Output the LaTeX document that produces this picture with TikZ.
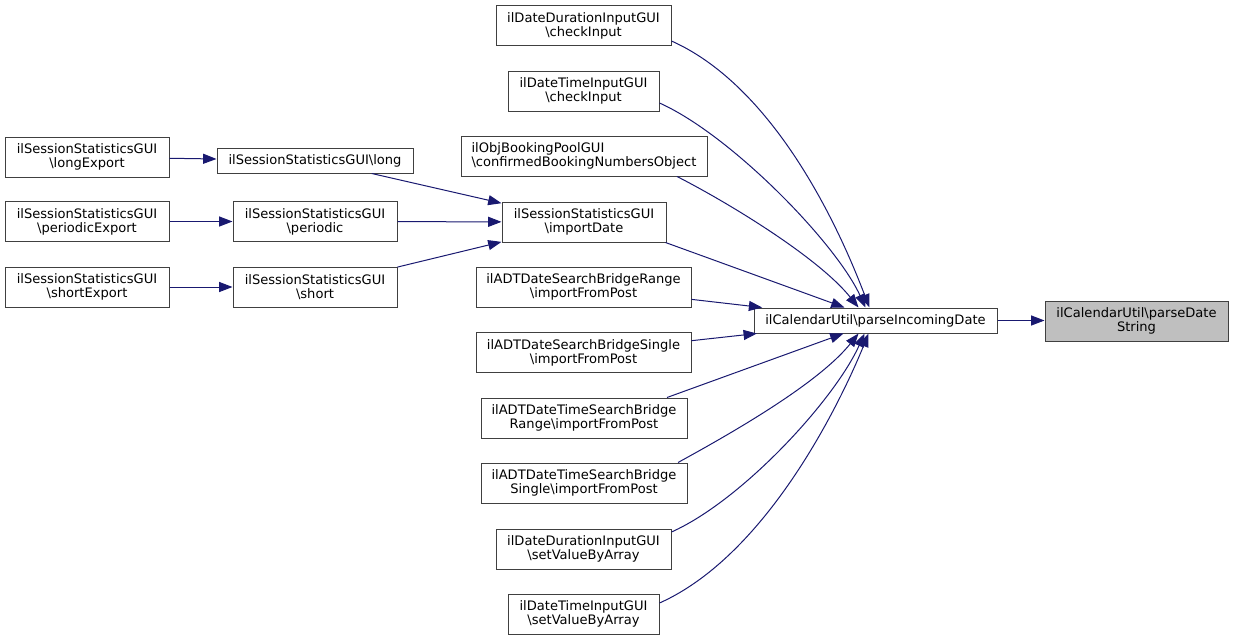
\documentclass[tikz,border=0pt]{standalone}
\usepackage{fontspec}
\setmainfont{DejaVu Sans}
\usetikzlibrary{arrows.meta,calc}
\definecolor{edgeblue}{HTML}{191970}
\definecolor{nodeborder}{HTML}{404040}
\definecolor{hlfill}{HTML}{BFBFBF}
\tikzset{
  fn/.style={draw=nodeborder, line width=0.75pt, fill=white, rectangle, inner sep=0pt,
    align=center, font=\fontsize{9.8}{10.5}\selectfont, minimum height=30pt},
  hl/.style={fn, fill=hlfill},
  edge/.style={draw=edgeblue, line width=0.75pt, -{Triangle[length=10pt,width=7.5pt]}},
}
\begin{document}
\begin{tikzpicture}[x=0.75pt,y=-0.75pt]
\useasboundingbox (0,0) rectangle (1233,640);
% nodes
\node[hl, minimum width=137.25pt] (pds) at (1136.5,321) {ilCalendarUtil\textbackslash parseDate\\String};
\node[fn, minimum width=182.25pt, minimum height=18.75pt] (pid) at (875.5,320.5) {ilCalendarUtil\textbackslash parseIncomingDate};
\node[fn, minimum width=131.25pt] (ddc) at (583.5,25.5) {ilDateDurationInputGUI\\\textbackslash checkInput};
\node[fn, minimum width=113.25pt] (dtc) at (583.5,91) {ilDateTimeInputGUI\\\textbackslash checkInput};
\node[fn, minimum width=184.5pt, align=left] (obj) at (584,156) {ilObjBookingPoolGUI\\\textbackslash confirmedBookingNumbersObject};
\node[fn, minimum width=123pt] (imp) at (584,222) {ilSessionStatisticsGUI\\\textbackslash importDate};
\node[fn, minimum width=161.25pt] (adr) at (583.5,287) {ilADTDateSearchBridgeRange\\\textbackslash importFromPost};
\node[fn, minimum width=161.25pt] (ads) at (583.5,352.5) {ilADTDateSearchBridgeSingle\\\textbackslash importFromPost};
\node[fn, minimum width=154.5pt] (atr) at (584,418) {ilADTDateTimeSearchBridge\\Range\textbackslash importFromPost};
\node[fn, minimum width=154.5pt] (ats) at (584,483) {ilADTDateTimeSearchBridge\\Single\textbackslash importFromPost};
\node[fn, minimum width=131.25pt] (dds) at (583.5,549) {ilDateDurationInputGUI\\\textbackslash setValueByArray};
\node[fn, minimum width=113.25pt] (dts) at (583.5,614) {ilDateTimeInputGUI\\\textbackslash setValueByArray};
\node[fn, minimum width=147pt, minimum height=18.75pt] (long) at (315,160.5) {ilSessionStatisticsGUI\textbackslash long};
\node[fn, minimum width=123pt] (per) at (315,221.5) {ilSessionStatisticsGUI\\\textbackslash periodic};
\node[fn, minimum width=123pt] (sho) at (315,287) {ilSessionStatisticsGUI\\\textbackslash short};
\node[fn, minimum width=123pt] (le) at (87,157) {ilSessionStatisticsGUI\\\textbackslash longExport};
\node[fn, minimum width=123pt] (pe) at (87,221.5) {ilSessionStatisticsGUI\\\textbackslash periodicExport};
\node[fn, minimum width=123pt] (se) at (87,287) {ilSessionStatisticsGUI\\\textbackslash shortExport};
% edges
\draw[edge] (pid) -- (pid.east -| pds.west);
\draw[edge] ($(ddc.east)+(0,15.5)$) .. controls (788,93) and (853,265) .. ($(pid.north)+(-6,0)$);
\draw[edge] ($(dtc.east)+(0,12)$) .. controls (731,135) and (836,243) .. ($(pid.north)+(-10,0)$);
\draw[edge] ($(obj.south)+(93,0)$) .. controls (727,202) and (818,257) .. ($(pid.north)+(-17,0)$);
\draw[edge] ($(imp.south east)+(-1,0)$) -- ($(pid.north)+(-31,0)$);
\draw[edge] (adr) -- (pid);
\draw[edge] (ads) -- (pid);
\draw[edge] ($(atr.north)+(83,0)$) -- ($(pid.south)+(-32,0)$);
\draw[edge] ($(ats.north)+(94,0)$) .. controls (730,434) and (818,384) .. ($(pid.south)+(-17,0)$);
\draw[edge] ($(dds.east)+(0,-17)$) .. controls (743,500) and (835,399) .. ($(pid.south)+(-11,0)$);
\draw[edge] ($(dts.east)+(0,-11)$) .. controls (776,551) and (851,377) .. ($(pid.south)+(-7,0)$);
\draw[edge] (long) -- (imp);
\draw[edge] (per) -- (imp);
\draw[edge] (sho) -- (imp);
\draw[edge] (le) -- (long);
\draw[edge] (pe) -- (per);
\draw[edge] (se) -- (sho);
\end{tikzpicture}
\end{document}
